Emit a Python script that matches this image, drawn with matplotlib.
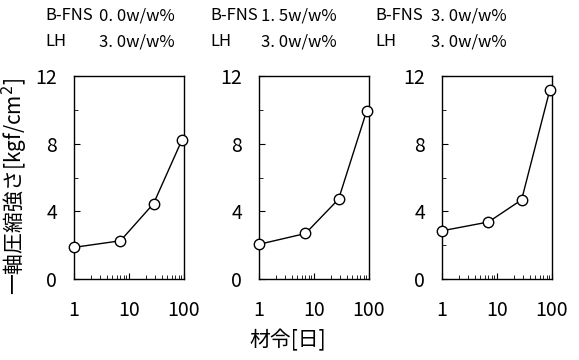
import matplotlib
matplotlib.use("Agg")
import matplotlib.pyplot as plt
from matplotlib.ticker import NullFormatter, LogLocator

plt.rcParams['font.family'] = ['Noto Sans CJK JP', 'DejaVu Sans']

ages = [1, 7, 28, 91]
strength_p1 = [1.87, 2.26, 4.46, 8.19]
strength_p2 = [2.05, 2.69, 4.72, 9.95]
strength_p3 = [2.85, 3.37, 4.68, 11.16]
series = [strength_p1, strength_p2, strength_p3]
bfns_labels = ["0. 0w/w%", "1. 5w/w%", "3. 0w/w%"]
lh_labels = ["3. 0w/w%", "3. 0w/w%", "3. 0w/w%"]
y_ticks = [0, 4, 8, 12]
y_minor = [2, 6, 10]
x_ticks = [1, 10, 100]
x_ticklabels = ["1", "10", "100"]
ylabel = "一軸圧縮強さ[kgf/cm$^{2}$]"
xlabel = "材令[日]"

W, H = 579, 360
fig = plt.figure(figsize=(W / 100, H / 100), dpi=100)

lefts = [74, 259, 442]
ax_w, top, bottom = 110, 76, 279
title_x = [45, 210, 375]
value_right = [175, 337, 507]

for i, (lx, vals) in enumerate(zip(lefts, series)):
    ax = fig.add_axes([lx / W, (H - bottom) / H, ax_w / W, (bottom - top) / H])
    ax.plot(ages, vals, color='black', lw=1.0, marker='o', ms=7.5,
            mfc='white', mec='black', mew=1.0, clip_on=False, zorder=3)
    ax.set_xscale('log')
    ax.set_xlim(1, 100)
    ax.set_ylim(0, 12)
    ax.set_yticks(y_ticks)
    ax.set_yticks(y_minor, minor=True)
    ax.set_xticks(x_ticks)
    ax.set_xticklabels(x_ticklabels)
    ax.xaxis.set_minor_locator(LogLocator(base=10, subs=range(2, 10)))
    ax.xaxis.set_minor_formatter(NullFormatter())
    ax.tick_params(axis='both', which='major', direction='in', length=4, width=0.8,
                   labelsize=14)
    ax.tick_params(axis='both', which='minor', direction='in', length=3, width=0.6)
    ax.tick_params(axis='y', which='major', pad=12)
    ax.tick_params(axis='x', which='major', pad=15)
    for sp in ax.spines.values():
        sp.set_linewidth(1.0)
    fig.text(title_x[i] / W, 1 - 16 / H, "B-FNS", fontsize=12, ha='left', va='center')
    fig.text(value_right[i] / W, 1 - 16 / H, bfns_labels[i], fontsize=12, ha='right', va='center')
    fig.text(title_x[i] / W, 1 - 42 / H, "LH", fontsize=12, ha='left', va='center')
    fig.text(value_right[i] / W, 1 - 42 / H, lh_labels[i], fontsize=12, ha='right', va='center')

fig.text(15 / W, 1 - 186 / H, ylabel, rotation=90, fontsize=15, ha='center', va='center')
fig.text(288 / W, 1 - 340 / H, xlabel, fontsize=15, ha='center', va='center')

fig.savefig("out.png", dpi=100)
